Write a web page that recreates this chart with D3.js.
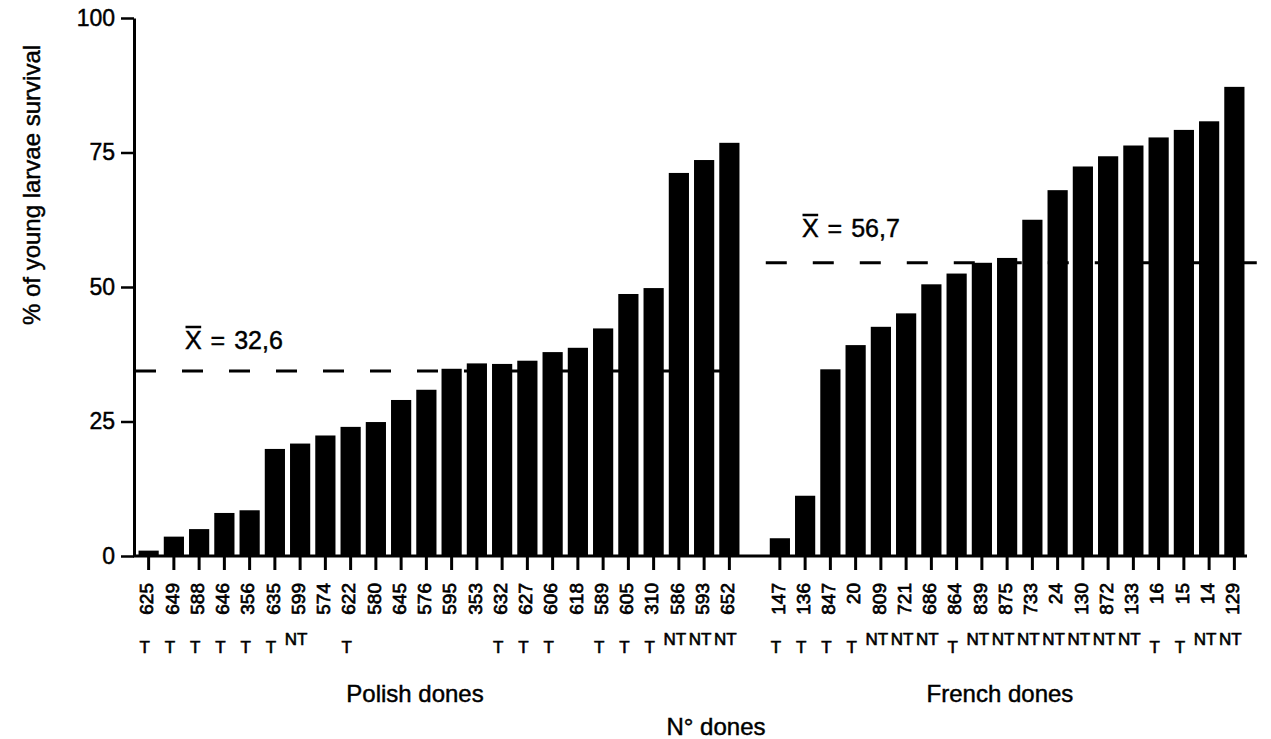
<!DOCTYPE html>
<html>
<head>
<meta charset="utf-8">
<script src="https://cdn.jsdelivr.net/npm/d3@7"></script>
<style>
  html, body { margin: 0; padding: 0; background: #fff; }
  svg { display: block; font-family: "Liberation Sans", Arial, sans-serif; }
  svg text { fill: #000; stroke: #000; stroke-width: 0.45px; }
</style>
</head>
<body>
<svg id="chart" width="1271" height="739"></svg>
<script>
// ---- data ----
const polishClones = ["625","649","588","646","356","635","599","574","622","580","645","576","595","353","632","627","606","618","589","605","310","586","593","652"];
const polishValues = [1.0,3.6,5.0,8.0,8.5,19.9,20.9,22.4,24.0,24.9,29.0,30.9,34.8,35.8,35.7,36.3,37.9,38.7,42.3,48.7,49.8,71.2,73.6,76.8];
const polishTypes  = ["T","T","T","T","T","T","NT","","T","","","","","","T","T","T","","T","T","T","NT","NT","NT"];

const frenchClones = ["147","136","847","20","809","721","686","864","839","875","733","24","130","872","133","16","15","14","129"];
const frenchValues = [3.3,11.2,34.7,39.2,42.6,45.1,50.5,52.5,54.5,55.4,62.5,68.0,72.4,74.3,76.3,77.8,79.2,80.8,87.2];
const frenchTypes  = ["T","T","T","T","NT","NT","NT","T","NT","NT","NT","NT","NT","NT","NT","T","T","NT","NT"];

const yTicks = [0, 25, 50, 75, 100];
const meanLabels = ["32,6", "56,7"];      // printed means
const meanLineLevels = [34.4, 54.5];      // where the dashed lines are drawn
const groupNames = ["Polish dones", "French dones"];
const xTitle = "N° dones";
const yTitle = "% of young larvae survival";

// ---- layout ----
const svg = d3.select("#chart");
const gapKey = "__gap__";
const domain = [...polishClones, gapKey, ...frenchClones];
const x = d3.scaleBand().domain(domain).range([136, 1247]).paddingInner(0.2).paddingOuter(0.1);
const y = d3.scaleLinear().domain([0, 100]).range([556, 18]);

const bars = polishClones.map((c, i) => ({c, v: polishValues[i], t: polishTypes[i]}))
  .concat(frenchClones.map((c, i) => ({c, v: frenchValues[i], t: frenchTypes[i]})));

// bars
svg.append("g").selectAll("rect").data(bars).join("rect")
  .attr("x", d => x(d.c))
  .attr("width", x.bandwidth())
  .attr("y", d => y(d.v))
  .attr("height", d => y(0) - y(d.v))
  .attr("fill", "#000");

// mean dashed lines
const polishStart = 135, polishEnd = x(polishClones[polishClones.length-1]) + x.bandwidth();
const frenchStart = x(frenchClones[0]) - 4, frenchEnd = 1262;
const meanSegs = [[polishStart, polishEnd, meanLineLevels[0]], [frenchStart, frenchEnd, meanLineLevels[1]]];
svg.append("g").selectAll("line").data(meanSegs).join("line")
  .attr("x1", d => d[0]).attr("x2", d => d[1])
  .attr("y1", d => y(d[2])).attr("y2", d => y(d[2]))
  .attr("stroke", "#000").attr("stroke-width", 3)
  .attr("stroke-dasharray", "21,26");

// y axis
const yAxis = svg.append("g").attr("transform", "translate(134,0)")
  .call(d3.axisLeft(y).tickValues(yTicks).tickSize(13).tickSizeOuter(0).tickPadding(6));
yAxis.select(".domain").attr("stroke-width", 3);
yAxis.selectAll(".tick line").attr("stroke-width", 2.5);
yAxis.selectAll(".tick text").attr("font-size", 23).attr("fill", "#000")
  .attr("font-family", "Liberation Sans, Arial, sans-serif");

// x axis line
svg.append("line").attr("x1", 133).attr("x2", 1247).attr("y1", y(0)).attr("y2", y(0))
  .attr("stroke", "#000").attr("stroke-width", 3);

// x ticks and labels
const allClones = [...polishClones, ...frenchClones];
const xAxis = svg.append("g").attr("transform", `translate(0,${y(0)})`)
  .call(d3.axisBottom(x).tickValues(allClones).tickSize(14).tickSizeOuter(0));
xAxis.select(".domain").remove();
xAxis.selectAll(".tick line").attr("stroke-width", 3);
xAxis.selectAll(".tick text")
  .attr("font-size", 19).attr("fill", "#000")
  .attr("font-family", "Liberation Sans, Arial, sans-serif")
  .style("stroke-width", "0.7px")
  .attr("transform", "rotate(-90)")
  .attr("x", -27).attr("y", -2).attr("dy", "0.35em")
  .attr("text-anchor", "end");

// T / NT markers
svg.append("g").selectAll("text").data(bars.filter(d => d.t)).join("text")
  .attr("x", d => x(d.c) + x.bandwidth() / 2 - 4)
  .attr("y", d => d.t === "T" ? 653 : 645)
  .attr("text-anchor", "middle")
  .attr("font-size", 17)
  .style("stroke-width", "0.6px")
  .text(d => d.t);

// mean labels with overbar on X
const meanPos = [[185, 349], [802, 237]];
meanPos.forEach((p, i) => {
  const t = svg.append("text").attr("x", p[0]).attr("y", p[1]).attr("font-size", 25)
    .attr("word-spacing", 2)
    .text("X = " + meanLabels[i]);
  const w = t.node().getSubStringLength(0, 1);
  svg.append("line").attr("x1", p[0] + 0.5).attr("x2", p[0] + w - 0.5)
    .attr("y1", p[1] - 22).attr("y2", p[1] - 22)
    .attr("stroke", "#000").attr("stroke-width", 2.5);
});

// group labels and axis titles
svg.append("text").attr("x", 415).attr("y", 702).attr("text-anchor", "middle").attr("font-size", 24).text(groupNames[0]);
svg.append("text").attr("x", 1000).attr("y", 702).attr("text-anchor", "middle").attr("font-size", 24).text(groupNames[1]);
svg.append("text").attr("x", 716).attr("y", 735).attr("text-anchor", "middle").attr("font-size", 24).text(xTitle);
svg.append("text").attr("transform", "translate(40,185) rotate(-90)").attr("text-anchor", "middle").attr("font-size", 24).text(yTitle);
</script>
</body>
</html>
